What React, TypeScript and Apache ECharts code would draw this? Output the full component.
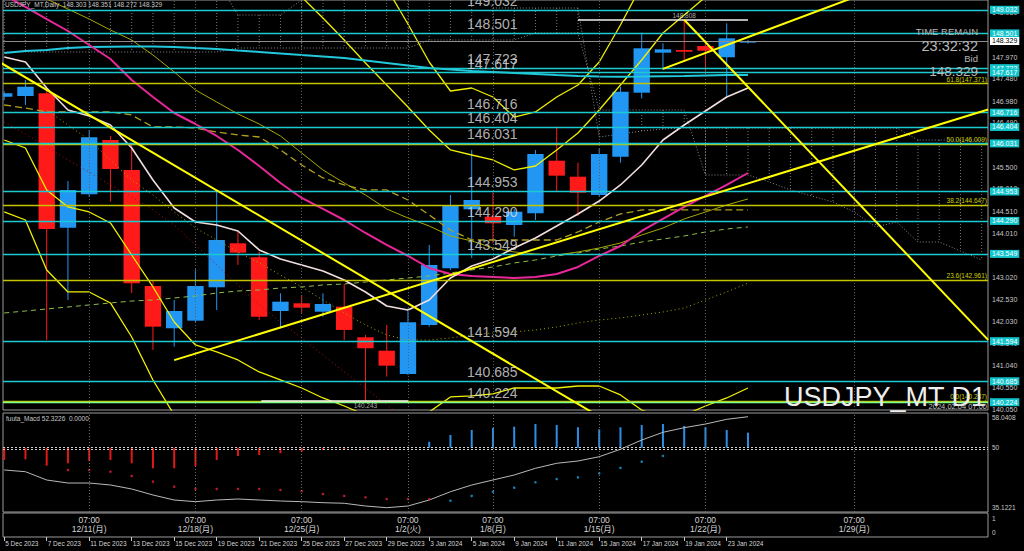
import React, { useEffect, useRef } from 'react';
import * as echarts from 'echarts';

// ---------------- data ----------------
const barDates = ['5 Dec 2023','6 Dec 2023','7 Dec 2023','8 Dec 2023','11 Dec 2023','12 Dec 2023','13 Dec 2023','14 Dec 2023','15 Dec 2023','18 Dec 2023','19 Dec 2023','20 Dec 2023','21 Dec 2023','22 Dec 2023','25 Dec 2023','26 Dec 2023','27 Dec 2023','28 Dec 2023','29 Dec 2023','2 Jan 2024','3 Jan 2024','4 Jan 2024','5 Jan 2024','8 Jan 2024','9 Jan 2024','10 Jan 2024','11 Jan 2024','12 Jan 2024','15 Jan 2024','16 Jan 2024','17 Jan 2024','18 Jan 2024','19 Jan 2024','22 Jan 2024','23 Jan 2024','24 Jan 2024'];
const opens = [147.079,147.095,147.155,144.138,144.888,146.107,145.434,142.829,141.880,142.050,142.800,143.788,143.474,142.268,142.441,142.252,142.365,141.678,141.377,140.854,141.954,143.227,144.551,144.385,144.199,144.461,145.642,145.283,144.872,145.732,147.169,148.067,148.128,148.217,147.964,148.303];
const highs = [147.200,147.454,147.230,145.187,146.332,146.197,145.995,142.948,142.515,143.204,144.946,144.048,143.599,142.665,142.627,142.665,142.874,141.729,141.954,142.329,143.750,144.872,145.883,144.924,144.558,145.883,146.406,145.597,145.921,147.304,148.516,148.278,148.808,148.278,148.727,148.351];
const lows = [147.000,146.893,141.617,142.515,144.827,144.722,142.672,141.393,141.467,142.021,142.291,143.301,142.066,141.880,142.223,142.140,141.617,140.243,140.793,140.831,141.916,143.189,143.458,143.788,143.936,144.311,144.946,144.401,144.834,145.597,147.043,147.679,147.865,147.640,147.079,148.272];
const closes = [147.155,147.304,144.109,144.985,146.168,145.456,142.890,141.916,142.268,142.829,143.862,143.577,142.140,142.477,142.342,142.425,141.842,141.431,141.040,142.014,143.301,144.648,144.760,144.237,144.497,145.793,145.306,144.924,145.793,147.191,148.166,148.143,148.089,148.112,148.390,148.329];

const cyanMA = [148.060,148.105,148.128,148.172,148.195,148.202,148.206,148.206,148.195,148.172,148.150,148.116,148.083,148.049,148.015,147.982,147.948,147.892,147.836,147.780,147.723,147.690,147.656,147.634,147.611,147.589,147.566,147.544,147.533,147.528,147.533,147.539,147.544,147.555,147.566,147.566];
const magentaMA = [149.362,149.093,148.823,148.554,148.240,147.925,147.454,147.072,146.713,146.466,146.197,145.883,145.523,145.142,144.805,144.558,144.311,144.019,143.750,143.503,143.233,143.099,143.054,143.031,143.009,143.031,143.099,143.256,143.503,143.727,144.064,144.334,144.603,144.850,145.097,145.366];
const whiteMA = [147.970,147.858,147.274,146.781,146.646,146.444,145.927,145.209,144.580,144.266,144.199,144.064,143.638,143.435,143.301,143.166,142.964,142.695,142.380,142.291,142.515,143.009,143.278,143.435,143.682,143.907,144.176,144.446,144.737,145.097,145.546,146.107,146.444,146.758,147.072,147.274];
const oliveMA = [149.811,149.519,149.272,149.048,148.823,148.577,148.352,148.015,147.634,147.230,146.960,146.691,146.466,146.197,145.815,145.434,145.142,144.872,144.558,144.356,144.176,143.952,143.840,143.682,143.593,143.548,143.525,143.593,143.682,143.795,143.974,144.131,144.334,144.491,144.648,144.783];
const kijunDashed = [146.893,146.825,146.736,146.736,146.736,146.736,146.668,146.399,146.399,146.376,146.287,146.219,146.174,145.883,145.546,145.254,145.097,144.985,144.985,144.760,144.423,144.087,143.862,143.862,143.862,143.862,143.862,144.042,144.266,144.446,144.536,144.536,144.536,144.536,144.536,144.536];
const greenDashed = [142.223,142.268,142.313,142.358,142.403,142.448,142.492,142.515,142.560,142.605,142.672,142.717,142.740,142.784,142.807,142.852,142.874,142.919,142.964,143.009,143.054,143.121,143.189,143.256,143.346,143.413,143.503,143.570,143.660,143.727,143.817,143.884,143.952,144.042,144.109,144.154];
const oliveDotted = [null,null,146.781,146.444,146.107,145.658,145.209,144.872,144.491,144.131,143.862,143.593,143.346,143.076,142.807,142.515,142.223,141.954,141.729,141.617,141.617,141.662,141.729,141.774,141.797,141.842,141.909,141.999,142.066,142.111,142.178,142.246,142.335,142.515,142.695,142.897];
const redDotted = [146.511,146.242,145.950,145.658,145.389,145.097,144.828,144.535,144.199,143.750,143.301,142.852,142.403,142.021,141.662,141.280,140.899,140.539,140.158,139.821,null,null,null,null,null,null,null,null,null,null,null,null,null,null,null,null];
const bandUpperOuter = [null,null,null,null,null,null,null,null,null,null,null,null,null,null,null,null,150.597,150.148,149.519,148.711,147.858,147.207,147.274,147.072,146.623,146.736,147.072,147.342,147.858,148.689,149.587,150.373,null,null,null,null];
const bandUpperInner = [null,null,null,null,null,null,null,null,null,null,null,null,150.148,149.699,149.317,148.846,148.352,147.836,147.342,146.848,146.332,145.883,145.770,145.658,145.434,145.523,145.883,146.264,146.781,147.342,147.903,148.509,148.913,149.317,149.699,null];
const bandLowerInner = [146.107,145.927,144.985,144.603,144.491,144.244,143.525,142.807,142.021,141.505,141.348,141.168,140.899,140.719,140.539,140.315,140.135,139.933,139.821,139.821,140.001,140.338,140.360,140.405,140.539,140.539,140.539,140.584,140.584,140.383,140.045,139.866,139.933,140.135,140.315,140.539];
const bandLowerOuter = [144.491,144.311,143.189,142.695,142.695,142.448,141.684,140.719,139.933,139.372,null,null,null,null,null,null,null,null,null,null,null,null,null,null,null,null,null,null,null,null,null,null,null,null,null,null];
// Ichimoku-like cloud (bars 0..46, drawn into the future)
const cloudSpanA = [149.699,149.699,149.699,149.699,149.699,149.699,149.699,149.699,149.699,149.699,149.699,148.913,148.913,148.913,149.250,149.587,149.587,149.587,149.587,149.587,149.587,149.587,149.587,149.070,149.070,149.070,149.070,149.070,146.174,146.242,146.309,146.354,146.376,146.376,146.376,146.376,146.376,146.376,146.376,146.376,146.376,146.376,146.376,146.107,146.107,146.107,146.107];
const cloudSpanB = [148.083,148.083,148.083,148.083,148.083,148.083,148.083,148.083,148.083,148.083,148.083,148.172,148.172,148.172,148.172,148.172,148.172,148.172,148.172,148.172,148.352,148.352,148.352,148.352,148.352,148.509,148.509,148.509,146.781,146.781,146.781,146.781,146.781,145.321,145.321,145.321,145.164,144.985,144.850,144.715,144.491,144.154,144.266,143.817,143.817,143.615,143.413];

const levelPrices = [149.032,148.501,147.723,147.617,146.716,146.404,146.031,144.953,144.290,143.549,141.594,140.685,140.224];
const greenLevelPrice = 140.224;
const bidPrice = 148.329;
const fibRatios = [61.8, 50.0, 38.2, 23.6, 0.0];
const fibPrices = [147.371, 146.009, 144.647, 142.961, 140.237];
const priceTicks = [148.980,148.475,147.970,147.480,146.980,146.490,146.000,145.500,145.010,144.510,144.010,143.520,143.020,142.530,142.030,141.540,141.040,140.550,140.050];

const highMark = { price: 148.808, bar: 32, from: 27.0, to: 35.0 };
const lowMark = { price: 140.243, bar: 17, from: 12.1, to: 19.0 };

// trend lines: [startBar, startPrice, endBar, endPrice]
const trendLineA = [-0.3, 147.88, 28, 139.9];
const trendLineB = [8, 141.164, 46.3, 146.792];
const trendLineC = [31, 147.704, 42, 149.667];
const trendLineD = [32, 148.808, 46.3, 141.62];

const macdHist = [47.16,47.32,45.84,46.40,46.93,47.16,46.40,45.24,45.24,45.77,47.16,48.09,48.32,48.71,49.08,49.48,49.71,49.80,49.85,50.20,51.39,52.95,54.11,54.57,54.87,55.49,55.26,54.73,54.26,54.73,55.26,55.49,55.03,54.73,54.11,53.49];
const macdLine = [44.85,44.45,42.53,41.83,41.83,41.37,40.45,39.06,37.90,37.51,37.90,38.13,37.90,37.67,37.51,37.28,37.14,36.51,36.12,36.51,37.90,39.82,41.37,42.53,43.69,45.24,46.40,46.93,47.92,49.64,51.79,53.57,54.64,55.49,56.58,57.18];
const macdDots = [null,null,null,44.85,44.85,44.45,43.46,42.14,40.98,40.45,40.45,40.45,40.45,40.22,39.98,39.29,38.83,38.53,38.13,38.13,38.13,37.74,38.83,39.82,40.75,42.00,42.76,43.15,44.08,45.35,46.76,48.09,null,null,null,null];
const macdMin = 35.1221;
const macdMax = 58.0408;
const macdBase = 50;
const macdLevelLines = [50.1, 49.64];
const macdTitle = 'fuuta_Macd 52.3226  0.0000';

const weekIdx = [4, 9, 14, 19, 23, 28, 33, 40];
const weekLabels = ['12/11(月)', '12/18(月)', '12/25(月)', '1/2(火)', '1/8(月)', '1/15(月)', '1/22(月)', '1/29(月)'];
const dateTickIdx = [0,2,4,6,8,10,12,14,16,18,20,22,24,26,28,30,32,34];

// ---------------- layout / style ----------------
const FONT = '"Liberation Sans", Arial, sans-serif';
const FONT_JP = '"Liberation Sans", "Noto Sans CJK JP", sans-serif';
const X_MIN = -0.0565;
const X_MAX = 46.296;
const Y_MIN = 140.045;
const Y_MAX = 149.25;
const CYAN = '#1ccbd0';
const RED = '#ff1a1a';
const BLUE = '#2196f3';
const YEL = '#f0f000';
const OLIVE = '#a8a800';
const FRAME = '#9a9a9a';

const MAIN = { left: 3, top: 0, width: 985, height: 410 };
const SUB = { left: 3, top: 413, width: 985, height: 99 };
const LAB = { left: 3, top: 513, width: 985, height: 24 };

const toXY = (arr: (number | null)[]) => arr.map((v, i) => [i, v == null ? '-' : v]);

function lineS(arr: any[], color: string, width: number, type: any = 'solid', z = 4) {
  return {
    type: 'line', xAxisIndex: 0, yAxisIndex: 0, data: toXY(arr), symbol: 'none', showSymbol: false,
    silent: true, connectNulls: false, clip: true, z,
    lineStyle: { color, width, type },
  };
}

function trendS(t: number[]) {
  return {
    type: 'line', xAxisIndex: 0, yAxisIndex: 0, data: [[t[0], t[1]], [t[2], t[3]]], symbol: 'none',
    silent: true, clip: true, z: 5, lineStyle: { color: '#ffff00', width: 2 },
  };
}

function buildOption() {
  const candleData = opens.map((o, i) => [i, o, closes[i], lows[i], highs[i]]);
  const cloudData = cloudSpanA.map((a, i) => [i, a, cloudSpanB[i]]);
  const macdY = (v: number) => SUB.top + ((macdMax - v) / (macdMax - macdMin)) * SUB.height;

  const levelLines = levelPrices.map((v) => ({
    yAxis: v,
    lineStyle: { color: v === greenLevelPrice ? '#7dff8c' : CYAN, width: 1.3, type: 'solid' },
    label: {
      show: true, position: 'end', distance: 2, formatter: v.toFixed(3), fontSize: 7, fontFamily: FONT,
      color: '#ffffff', backgroundColor: '#11c4cc', padding: [1, 2, 0, 2],
    },
  }));
  const fibLines = fibPrices.map((v, k) => ({
    yAxis: v,
    lineStyle: { color: '#c4c400', width: 1.3, type: 'solid' },
    label: {
      show: true, position: 'insideEndTop', distance: 1, formatter: `${fibRatios[k].toFixed(1)}(${v.toFixed(3)})`,
      fontSize: 6.5, fontFamily: FONT, color: '#d0d000',
    },
  }));

  return {
    backgroundColor: '#000000',
    animation: false,
    grid: [
      { ...MAIN, show: true, borderColor: FRAME, borderWidth: 1, outerBoundsMode: 'none' },
      { ...SUB, show: true, borderColor: FRAME, borderWidth: 1, outerBoundsMode: 'none' },
      { ...LAB, show: true, borderColor: FRAME, borderWidth: 1, outerBoundsMode: 'none' },
    ],
    xAxis: [
      { gridIndex: 0, type: 'value', min: X_MIN, max: X_MAX, show: false },
      { gridIndex: 1, type: 'value', min: X_MIN, max: X_MAX, show: false },
      {
        gridIndex: 2, type: 'value', min: X_MIN, max: X_MAX, position: 'bottom',
        axisLine: { show: false }, splitLine: { show: false },
        axisTick: { show: true, customValues: dateTickIdx, length: 4, lineStyle: { color: '#c8c8c8' } },
        axisLabel: {
          customValues: dateTickIdx, formatter: (v: number) => barDates[Math.round(v)], align: 'left',
          fontSize: 6.5, fontFamily: FONT, color: '#d4d4d4', margin: 3, padding: [0, 0, 0, 1],
        },
      },
      {
        gridIndex: 2, type: 'value', min: X_MIN, max: X_MAX, position: 'top',
        axisLine: { show: false }, axisTick: { show: false }, splitLine: { show: false },
        axisLabel: {
          inside: true, customValues: weekIdx,
          formatter: (v: number) => '07:00\n' + weekLabels[weekIdx.indexOf(Math.round(v))],
          fontSize: 8.5, lineHeight: 9, fontFamily: FONT_JP, color: '#d4d4d4', margin: 2,
        },
      },
    ],
    yAxis: [
      {
        gridIndex: 0, type: 'value', min: Y_MIN, max: Y_MAX, position: 'right',
        axisLine: { show: false }, axisTick: { show: false }, splitLine: { show: false },
        axisLabel: {
          customValues: priceTicks, formatter: (v: number) => v.toFixed(3),
          fontSize: 7, fontFamily: FONT, color: '#c8c8c8', margin: 4,
        },
      },
      { gridIndex: 1, type: 'value', min: macdMin, max: macdMax, show: false },
      { gridIndex: 2, type: 'value', min: 0, max: 1, show: false },
    ],
    series: [
      // vertical period grid
      {
        type: 'line', xAxisIndex: 0, yAxisIndex: 0, data: [], silent: true, z: 1,
        markLine: {
          symbol: 'none', silent: true, label: { show: false },
          lineStyle: { color: '#5e5e5e', width: 1, type: [1, 2] },
          data: weekIdx.map((i) => ({ xAxis: i })),
        },
      },
      {
        type: 'line', xAxisIndex: 1, yAxisIndex: 1, data: [], silent: true, z: 1,
        markLine: {
          symbol: 'none', silent: true, label: { show: false },
          lineStyle: { color: '#6e6e6e', width: 1, type: [1, 2] },
          data: [
            ...weekIdx.map((i) => ({ xAxis: i })),
            ...macdLevelLines.map((v) => ({ yAxis: v, lineStyle: { color: '#d0d0d0', type: [2, 2], width: 1 } })),
          ],
        },
      },
      // cloud hatch
      {
        type: 'custom', xAxisIndex: 0, yAxisIndex: 0, data: cloudData, z: 1, silent: true, clip: true,
        renderItem: (_p: any, api: any) => {
          const a = api.coord([api.value(0), api.value(1)]);
          const b = api.coord([api.value(0), api.value(2)]);
          return { type: 'line', shape: { x1: a[0], y1: a[1], x2: b[0], y2: b[1] }, style: { stroke: '#7a7a7a', lineWidth: 1, lineDash: [1, 2] } };
        },
      },
      { ...lineS(cloudSpanA, '#8a8a8a', 1, [1, 2], 1), data: cloudSpanA.map((v, i) => [i, v]) },
      { ...lineS(cloudSpanB, '#8a8a8a', 1, [1, 2], 1), data: cloudSpanB.map((v, i) => [i, v]) },
      // horizontal levels, fib, bid
      {
        type: 'line', xAxisIndex: 0, yAxisIndex: 0, data: [], silent: true, z: 2,
        markLine: {
          symbol: 'none', silent: true,
          data: [
            ...fibLines,
            ...levelLines,
            {
              yAxis: bidPrice, lineStyle: { color: '#8c8c8c', width: 1.2, type: 'solid' },
              label: {
                show: true, position: 'end', distance: 2, formatter: bidPrice.toFixed(3), fontSize: 7, fontFamily: FONT,
                color: '#000000', backgroundColor: '#ffffff', padding: [1, 2, 0, 2],
              },
            },
          ],
        },
      },
      // candles
      {
        type: 'custom', xAxisIndex: 0, yAxisIndex: 0, data: candleData, z: 3, silent: true, clip: true,
        encode: { x: 0, y: [1, 2, 3, 4] },
        renderItem: (_p: any, api: any) => {
          const x = api.value(0);
          const o = api.value(1), c = api.value(2), l = api.value(3), h = api.value(4);
          const po = api.coord([x, o]), pc = api.coord([x, c]), pl = api.coord([x, l]), ph = api.coord([x, h]);
          const w = api.size([1, 0])[0] * 0.77;
          const color = c >= o ? BLUE : RED;
          const top = Math.min(po[1], pc[1]);
          const bh = Math.max(Math.abs(po[1] - pc[1]), 1.6);
          return {
            type: 'group',
            children: [
              { type: 'line', shape: { x1: po[0], y1: ph[1], x2: po[0], y2: pl[1] }, style: { stroke: color, lineWidth: 1 } },
              { type: 'rect', shape: { x: po[0] - w / 2, y: top, width: w, height: bh }, style: { fill: color } },
            ],
          };
        },
      },
      // indicator lines
      lineS(redDotted, '#b01010', 1, [1, 3]),
      lineS(oliveDotted, OLIVE, 1, [1, 3]),
      lineS(greenDashed, '#8cbf4a', 1, [5, 4]),
      lineS(kijunDashed, '#b0a020', 1.3, [7, 4]),
      lineS(oliveMA, OLIVE, 1),
      lineS(bandUpperOuter, YEL, 1.3),
      lineS(bandUpperInner, YEL, 1.3),
      lineS(bandLowerInner, YEL, 1.3),
      lineS(bandLowerOuter, YEL, 1.3),
      lineS(cyanMA, '#22c8dc', 2),
      lineS(magentaMA, '#e8289a', 2),
      lineS(whiteMA, '#f2dede', 1.6),
      trendS(trendLineA),
      trendS(trendLineB),
      trendS(trendLineC),
      trendS(trendLineD),
      // high / low markers
      {
        type: 'line', xAxisIndex: 0, yAxisIndex: 0, data: [], silent: true, z: 5,
        markLine: {
          symbol: 'none', silent: true, label: { show: false },
          lineStyle: { color: '#f0f0f0', width: 1.6, type: 'solid' },
          data: [
            [{ coord: [highMark.from, highMark.price] }, { coord: [highMark.to, highMark.price] }],
            [{ coord: [lowMark.from, lowMark.price] }, { coord: [lowMark.to, lowMark.price] }],
          ],
        },
      },
      {
        type: 'scatter', xAxisIndex: 0, yAxisIndex: 0, symbolSize: 0, silent: true, z: 6,
        label: { show: true, formatter: (p: any) => p.value[1].toFixed(3), fontSize: 6.5, fontFamily: FONT, color: '#d8d8d8' },
        data: [
          { value: [highMark.bar, highMark.price], label: { position: 'top', distance: 1 } },
          { value: [lowMark.bar, lowMark.price], label: { position: 'bottom', distance: 1 } },
        ],
      },
      // big level labels
      {
        type: 'scatter', xAxisIndex: 0, yAxisIndex: 0, symbolSize: 0, silent: true, z: 6,
        data: levelPrices.map((v) => [21.78, v]),
        label: {
          show: true, position: [0, -16], align: 'left', verticalAlign: 'top',
          formatter: (p: any) => p.value[1].toFixed(3), fontSize: 14, fontFamily: FONT, color: '#dedede',
        },
      },
      // MACD histogram
      {
        type: 'custom', xAxisIndex: 1, yAxisIndex: 1, data: macdHist.map((v, i) => [i, v]), z: 3, silent: true, clip: true,
        renderItem: (_p: any, api: any) => {
          const x = api.value(0), v = api.value(1);
          const a = api.coord([x, macdBase]);
          const b = api.coord([x, v]);
          return { type: 'line', shape: { x1: a[0], y1: a[1], x2: b[0], y2: b[1] }, style: { stroke: v >= macdBase ? '#2b8fe8' : '#e01818', lineWidth: 2 } };
        },
      },
      {
        type: 'line', xAxisIndex: 1, yAxisIndex: 1, data: macdLine.map((v, i) => [i, v]), symbol: 'none',
        silent: true, z: 4, lineStyle: { color: '#b8b8b8', width: 1 },
      },
      {
        type: 'scatter', xAxisIndex: 1, yAxisIndex: 1, symbolSize: 2.6, silent: true, z: 4,
        data: toXY(macdDots),
        itemStyle: { color: (p: any) => (p.value[1] > macdLine[p.value[0]] ? '#e02040' : '#1aa0e0') },
      },
    ],
    graphic: [
      { type: 'text', x: 5, y: 1, z: 20, style: { text: `USDJPY_MT,Daily  ${opens[35].toFixed(3)} ${highs[35].toFixed(3)} ${lows[35].toFixed(3)} ${closes[35].toFixed(3)}`, fill: '#c8c8c8', fontSize: 6.5, fontFamily: FONT } },
      { type: 'text', x: 978, y: 26.5, z: 20, style: { text: 'TIME REMAIN', fill: '#b8b8b8', fontSize: 9.5, fontFamily: FONT, align: 'right', verticalAlign: 'top' } },
      { type: 'text', x: 978, y: 38.5, z: 20, style: { text: '23:32:32', fill: '#b8b8b8', fontSize: 14.5, fontFamily: FONT, align: 'right', verticalAlign: 'top' } },
      { type: 'text', x: 978, y: 53.5, z: 20, style: { text: 'Bid', fill: '#b8b8b8', fontSize: 9.5, fontFamily: FONT, align: 'right', verticalAlign: 'top' } },
      { type: 'text', x: 978, y: 64.5, z: 20, style: { text: bidPrice.toFixed(3), fill: '#b8b8b8', fontSize: 13.5, fontFamily: FONT, align: 'right', verticalAlign: 'top' } },
      { type: 'text', x: 986, y: 410, z: 20, style: { text: 'USDJPY_MT D1', fill: '#eeeeee', fontSize: 27, fontFamily: FONT, align: 'right', verticalAlign: 'bottom' } },
      { type: 'text', x: 987, y: 410, z: 21, style: { text: '2024.02.04 07:00', fill: '#c4c4c4', fontSize: 7.5, fontFamily: FONT, align: 'right', verticalAlign: 'bottom' } },
      { type: 'text', x: 6, y: 415, z: 20, style: { text: macdTitle, fill: '#c8c8c8', fontSize: 6.5, fontFamily: FONT } },
      { type: 'text', x: 992, y: macdY(macdMax) + 1, z: 20, style: { text: macdMax.toFixed(4), fill: '#c8c8c8', fontSize: 6.5, fontFamily: FONT, verticalAlign: 'top' } },
      { type: 'text', x: 992, y: macdY(macdBase), z: 20, style: { text: String(macdBase), fill: '#c8c8c8', fontSize: 6.5, fontFamily: FONT, verticalAlign: 'middle' } },
      { type: 'text', x: 992, y: macdY(macdMin) - 1, z: 20, style: { text: macdMin.toFixed(4), fill: '#c8c8c8', fontSize: 6.5, fontFamily: FONT, verticalAlign: 'bottom' } },
      { type: 'text', x: 992, y: LAB.top + 2, z: 20, style: { text: '1', fill: '#c8c8c8', fontSize: 6.5, fontFamily: FONT, verticalAlign: 'top' } },
      { type: 'text', x: 992, y: LAB.top + LAB.height - 1, z: 20, style: { text: '0', fill: '#c8c8c8', fontSize: 6.5, fontFamily: FONT, verticalAlign: 'bottom' } },
    ],
  };
}

export default function App() {
  const ref = useRef<HTMLDivElement>(null);
  useEffect(() => {
    document.body.style.margin = '0';
    document.body.style.background = '#000';
    const chart = echarts.init(ref.current as HTMLDivElement, null, { renderer: 'svg' });
    chart.setOption(buildOption() as any);
    return () => chart.dispose();
  }, []);
  return <div ref={ref} style={{ position: 'fixed', left: 0, top: 0, width: 1024, height: 551, background: '#000' }} />;
}
